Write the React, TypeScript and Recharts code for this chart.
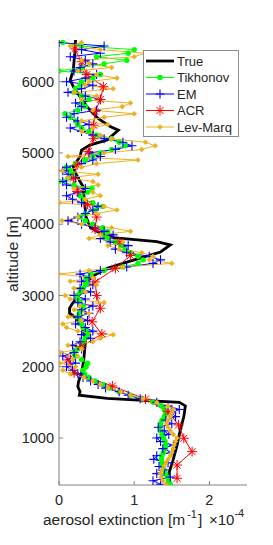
import React from 'react';
import { LineChart, Line, XAxis, YAxis } from 'recharts';

// altitude grid [m] shared by the three dense retrievals
const altitudeGrid = [
  350, 400, 450, 500, 550, 600, 650, 700, 750, 800,
  850, 900, 950, 1000, 1050, 1100, 1150, 1200, 1250, 1300,
  1350, 1400, 1450, 1500, 1550, 1600, 1650, 1700, 1750, 1800,
  1850, 1900, 1950, 2000, 2050, 2100, 2150, 2200, 2250, 2300,
  2350, 2400, 2450, 2500, 2550, 2600, 2650, 2700, 2750, 2800,
  2850, 2900, 2950, 3000, 3050, 3100, 3150, 3200, 3250, 3300,
  3350, 3400, 3450, 3500, 3550, 3600, 3650, 3700, 3750, 3800,
  3850, 3900, 3950, 4000, 4050, 4100, 4150, 4200, 4250, 4300,
  4350, 4400, 4450, 4500, 4550, 4600, 4650, 4700, 4750, 4800,
  4850, 4900, 4950, 5000, 5050, 5100, 5150, 5200, 5250, 5300,
  5350, 5400, 5450, 5500, 5550, 5600, 5650, 5700, 5750, 5800,
  5850, 5900, 5950, 6000, 6050, 6100, 6150, 6200, 6250, 6300,
  6350, 6400, 6450, 6500, 6550,
];

// extinction in units of 1e-4 m^-1
const tikhonovValues = [
  1.48, 1.46, 1.44, 1.42, 1.4, 1.38, 1.37, 1.36, 1.37, 1.39,
  1.41, 1.42, 1.41, 1.39, 1.37, 1.35, 1.34, 1.35, 1.37, 1.4,
  1.42, 1.4, 1.36, 1.25, 1.1, 0.95, 0.8, 0.68, 0.58, 0.48,
  0.4, 0.34, 0.32, 0.36, 0.38, 0.3, 0.22, 0.2, 0.25, 0.3,
  0.32, 0.35, 0.38, 0.36, 0.32, 0.3, 0.28, 0.25, 0.27, 0.3,
  0.32, 0.28, 0.25, 0.24, 0.28, 0.32, 0.35, 0.38, 0.36, 0.42,
  0.6, 0.85, 1.05, 1.12, 1.05, 0.95, 0.88, 0.82, 0.75, 0.65,
  0.6, 0.65, 0.58, 0.45, 0.35, 0.28, 0.35, 0.48, 0.58, 0.45,
  0.32, 0.28, 0.38, 0.44, 0.2, 0.0, 0.12, 0.18, 0.15, 0.1,
  0.22, 0.35, 0.45, 0.55, 0.7, 0.88, 0.8, 0.7, 0.5, 0.4,
  0.3, 0.25, 0.22, 0.15, 0.08, 0.25, 0.35, 0.3, 0.4, 0.3,
  0.2, 0.22, 0.28, 0.3, 0.45, 0.55, 0.0, 0.3, 0.6, 0.9,
  0.5, 0.92, 1.0, 0.3, 0.05,
];

const emValues = [
  1.35, 1.25, 1.48, 1.3, 1.4, 1.33, 1.45, 1.26, 1.3, 1.5,
  1.38, 1.52, 1.35, 1.3, 1.46, 1.4, 1.32, 1.5, 1.42, 1.55,
  1.5, 1.6, 1.45, 1.3, 1.08, 0.92, 0.8, 0.62, 0.52, 0.42,
  0.32, 0.25, 0.18, 0.1, 0.22, 0.15, 0.05, 0.2, 0.3, 0.18,
  0.28, 0.42, 0.3, 0.45, 0.35, 0.22, 0.38, 0.25, 0.4, 0.3,
  0.45, 0.25, 0.35, 0.2, 0.42, 0.28, 0.45, 0.3, 0.4, 0.28,
  0.55, 0.9, 1.25, 1.35, 1.2, 0.9, 0.75, 0.92, 0.68, 0.55,
  0.72, 0.6, 0.48, 0.3, 0.12, 0.25, 0.35, 0.45, 0.52, 0.3,
  0.18, 0.1, 0.25, 0.35, 0.1, 0.05, 0.22, 0.12, 0.05, 0.1,
  0.3, 0.45, 0.55, 0.4, 0.75, 0.97, 0.85, 0.6, 0.45, 0.3,
  0.15, 0.4, 0.25, 0.1, 0.2, 0.5, 0.3, 0.22, 0.55, 0.35,
  0.12, 0.3, 0.45, 0.1, 0.35, 0.5, 0.2, 0.28, 0.45, 0.35,
  0.15, 0.55, 0.3, 0.6, 0.0,
];

const levMarqValues = [
  1.42, 1.38, 1.36, 1.35, 1.37, 1.4, 1.42, 1.45, 1.48, 1.5,
  1.52, 1.53, 1.55, 1.57, 1.52, 1.48, 1.45, 1.43, 1.45, 1.48,
  1.5, 1.52, 1.45, 1.3, 1.12, 0.95, 0.82, 0.65, 0.55, 0.45,
  0.33, 0.15, 0.05, 0.22, 0.01, 0.18, 0.25, 0.02, 0.3, 0.12,
  0.45, 0.55, 0.72, 0.25, 0.1, 0.05, 0.3, 0.12, 0.4, 0.2,
  0.28, 0.6, 0.15, 0.08, 0.35, 0.2, 0.5, 0.15, 0.45, 0.0,
  0.4, 0.85, 1.5, 1.2, 1.25, 1.1, 0.8, 0.65, 0.85, 0.4,
  0.55, 0.95, 0.7, 0.3, 0.04, 0.25, 0.5, 0.77, 0.6, 0.01,
  0.35, 0.55, 0.45, 0.2, 0.52, 0.45, 0.12, 0.52, 0.04, 0.3,
  0.5, 1.05, 0.12, 0.6, 1.1, 1.28, 1.15, 0.7, 0.55, 0.3,
  0.45, 0.65, 0.3, 0.6, 1.0, 0.45, 0.84, 0.95, 0.3, 0.5,
  0.2, 0.72, 0.35, 0.4, 0.77, 0.5, 0.25, 0.7, 0.4, 0.3,
  1.0, 1.15, 0.55, 0.15, 0.3,
];

const trueAltitudes = [
  340, 500, 700, 900, 1100, 1300, 1450, 1500, 1555, 1600,
  1650, 1720, 1790, 1910, 2100, 2350, 2550, 2700, 2750, 2820,
  2890, 3050, 3200, 3290, 3385, 3500, 3610, 3710, 3755, 3810,
  3890, 3950, 4100, 4300, 4530, 4600, 4715, 4810, 4950, 5040,
  5110, 5180, 5320, 5370, 5485, 5650, 5790, 5930, 6024, 6164,
  6400, 6585,
];
const trueValues = [
  1.44, 1.46, 1.52, 1.57, 1.61, 1.66, 1.68, 1.6, 0.64, 0.27,
  0.28, 0.25, 0.26, 0.3, 0.33, 0.35, 0.32, 0.21, 0.14, 0.14,
  0.18, 0.3, 0.38, 0.48, 0.65, 1.0, 1.35, 1.48, 1.3, 0.72,
  0.52, 0.42, 0.36, 0.34, 0.32, 0.28, 0.22, 0.19, 0.28, 0.3,
  0.41, 0.64, 0.79, 0.68, 0.52, 0.37, 0.28, 0.19, 0.15, 0.19,
  0.21, 0.22,
];

const acrAltitudes = [
  434, 620, 808, 996, 1183, 1370, 1545, 1730, 1915, 2095,
  2285, 2460, 2630, 2820, 3000, 3190, 3380, 3560, 3750, 3930,
  4100, 4280, 4460, 4645, 4830, 5020, 5200, 5390, 5580, 5750,
  5930, 6100, 6280, 6460,
];
const acrValues = [
  1.57, 1.57, 1.77, 1.66, 1.59, 1.45, 1.15, 0.71, 0.2, 0.12,
  0.3, 0.57, 0.44, 0.55, 0.5, 0.48, 0.75, 0.95, 0.81, 0.48,
  0.5, 0.38, 0.24, 0.19, 0.24, 0.39, 0.46, 0.46, 0.48, 0.55,
  0.59, 0.37, 0.3, 0.21,
];

const xTicks = [0, 1, 2];
const yTicks = [1000, 2000, 3000, 4000, 5000, 6000];

const FONT = '"Liberation Sans", Arial, Helvetica, sans-serif';
const GREEN = '#00ff00';
const BLUE = '#0000ff';
const RED = '#ff0000';
const ORANGE = '#edb120';
const AXIS = '#808080';
const TEXT = '#262626';

const zip = (alts: number[], vals: number[]) => alts.map((alt, i) => ({ alt, v: vals[i] }));

const trueData = zip(trueAltitudes, trueValues);
const tikhonovData = zip(altitudeGrid, tikhonovValues);
const emData = zip(altitudeGrid, emValues);
const acrData = zip(acrAltitudes, acrValues);
const levMarqData = zip(altitudeGrid, levMarqValues);

const CircleMark = ({ cx, cy }: { cx: number; cy: number }) => (
  <circle cx={cx} cy={cy} r={2.7} fill={GREEN} />
);
const PlusMark = ({ cx, cy }: { cx: number; cy: number }) => (
  <path d={`M${cx - 4.5},${cy}H${cx + 4.5}M${cx},${cy - 4.5}V${cy + 4.5}`} stroke={BLUE} strokeWidth={1.1} fill="none" />
);
const StarMark = ({ cx, cy }: { cx: number; cy: number }) => (
  <path
    d={`M${cx - 5},${cy}H${cx + 5}M${cx},${cy - 5}V${cy + 5}M${cx - 3.5},${cy - 3.5}L${cx + 3.5},${cy + 3.5}M${cx - 3.5},${cy + 3.5}L${cx + 3.5},${cy - 3.5}`}
    stroke={RED}
    strokeWidth={1}
    fill="none"
  />
);
const DiamondMark = ({ cx, cy }: { cx: number; cy: number }) => (
  <path d={`M${cx},${cy - 2.8}L${cx + 2.8},${cy}L${cx},${cy + 2.8}L${cx - 2.8},${cy}Z`} fill={ORANGE} />
);

const dotOf = (Mark: any) => (p: any) =>
  p.cx == null || p.cy == null ? <g key={p.index} /> : <Mark key={p.index} cx={p.cx} cy={p.cy} />;

const legendItems = [
  { name: 'True', color: '#000000', width: 2.8, Mark: null },
  { name: 'Tikhonov', color: GREEN, width: 1, Mark: CircleMark },
  { name: 'EM', color: BLUE, width: 1, Mark: PlusMark },
  { name: 'ACR', color: RED, width: 1, Mark: StarMark },
  { name: 'Lev-Marq', color: ORANGE, width: 1, Mark: DiamondMark },
];

function ChartLegend() {
  return (
    <svg
      width={96}
      height={87}
      style={{ position: 'absolute', left: 142.5, top: 49.5, fontFamily: FONT }}
    >
      <rect x={0.5} y={0.5} width={95} height={86} fill="#ffffff" stroke="#8c8c8c" />
      {legendItems.map((item, i) => {
        const cy = 11 + i * 16.5;
        const Mark = item.Mark as any;
        return (
          <g key={item.name}>
            <line x1={3} x2={31} y1={cy} y2={cy} stroke={item.color} strokeWidth={item.width} />
            {Mark ? <Mark cx={17} cy={cy} /> : null}
            <text x={34} y={cy} dominantBaseline="central" fontSize={13} fill={TEXT}>
              {item.name}
            </text>
          </g>
        );
      })}
    </svg>
  );
}

const XLabel = () => (
  <g fontFamily={FONT} fill={TEXT}>
    <text x={43} y={525} fontSize={15.5}>
      aerosol extinction [m
      <tspan dx={2} dy={-7} fontSize={11}>-1</tspan>
      <tspan dx={1} dy={7}>]</tspan>
    </text>
    <text x={209} y={525} fontSize={15}>
      ×10
      <tspan dy={-8} fontSize={11}>-4</tspan>
    </text>
  </g>
);

const YLabel = () => (
  <text
    x={12}
    y={254}
    transform="rotate(-90 12 254)"
    textAnchor="middle"
    dominantBaseline="central"
    fontFamily={FONT}
    fontSize={15.5}
    fill={TEXT}
  >
    altitude [m]
  </text>
);

export default function App() {
  return (
    <div style={{ position: 'absolute', left: 0, top: 0, width: 273, height: 545, background: '#fff', fontFamily: FONT }}>
      <LineChart
        width={273}
        height={545}
        layout="vertical"
        margin={{ top: 40, right: 26, bottom: 30, left: 19 }}
      >
        <XAxis
          type="number"
          domain={[0, 2.5]}
          ticks={xTicks}
          allowDataOverflow
          height={30}
          tickSize={-4}
          tickMargin={14}
          axisLine={{ stroke: AXIS }}
          tickLine={{ stroke: AXIS }}
          tick={{ fontSize: 14.5, fill: TEXT, fontFamily: FONT }}
          label={{ content: () => <XLabel /> }}
        />
        <YAxis
          type="number"
          dataKey="alt"
          domain={[340, 6585]}
          reversed
          ticks={yTicks}
          allowDataOverflow
          width={40}
          tickSize={-4}
          tickMargin={9}
          axisLine={{ stroke: AXIS }}
          tickLine={{ stroke: AXIS }}
          tick={{ fontSize: 14.5, fill: TEXT, fontFamily: FONT }}
          label={{ content: () => <YLabel /> }}
        />
        <Line data={trueData} dataKey="v" stroke="#000000" strokeWidth={2.8} dot={false} isAnimationActive={false} />
        <Line data={tikhonovData} dataKey="v" stroke={GREEN} strokeWidth={1} dot={dotOf(CircleMark)} isAnimationActive={false} />
        <Line data={emData} dataKey="v" stroke={BLUE} strokeWidth={1} dot={dotOf(PlusMark)} isAnimationActive={false} />
        <Line data={acrData} dataKey="v" stroke={RED} strokeWidth={1} dot={dotOf(StarMark)} isAnimationActive={false} />
        <Line data={levMarqData} dataKey="v" stroke={ORANGE} strokeWidth={1} dot={dotOf(DiamondMark)} isAnimationActive={false} />
      </LineChart>
      <ChartLegend />
    </div>
  );
}
